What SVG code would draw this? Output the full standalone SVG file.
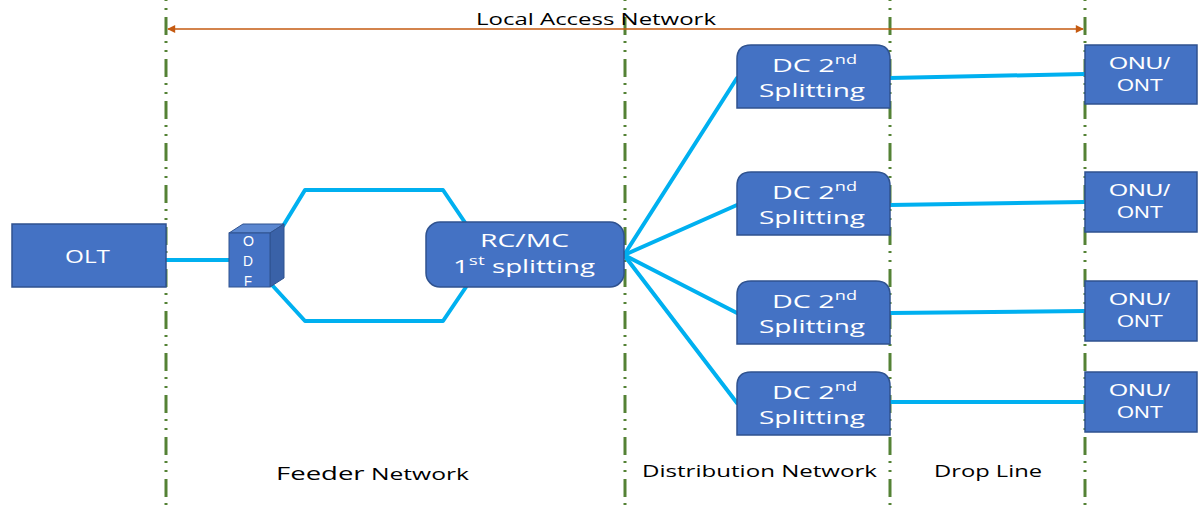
<svg xmlns="http://www.w3.org/2000/svg" width="1198" height="507" viewBox="0 0 1198 507">
<defs>
<marker id="arrS" viewBox="0 0 10 10" refX="1" refY="5" markerWidth="10" markerHeight="8" markerUnits="userSpaceOnUse" orient="auto"><path d="M10,0 L0,5 L10,10 z" fill="#C55A11"/></marker>
<marker id="arrE" viewBox="0 0 10 10" refX="9" refY="5" markerWidth="10" markerHeight="8" markerUnits="userSpaceOnUse" orient="auto"><path d="M0,0 L10,5 L0,10 z" fill="#C55A11"/></marker>
<style>
.vl{stroke:#548235;stroke-width:3;stroke-dasharray:18 6 2 7 2 7;fill:none}
.box{fill:#4472C4;stroke:#2F528F;stroke-width:1.5}
.fib{stroke:#00B0F0;stroke-width:4;fill:none;stroke-linecap:round;stroke-linejoin:round}
.wt{fill:#fff;font-family:"Open Sans","Liberation Sans",sans-serif;font-size:19px}
.wl{fill:#fff;font-family:"Liberation Sans",Arial,sans-serif}
.lb{fill:#000;font-family:"Open Sans","Liberation Sans",sans-serif;font-size:17px}
</style>
</defs>
<g id="guides">
<line class="vl" x1="166" y1="0" x2="166" y2="507" stroke-dashoffset="-17"/>
<line class="vl" x1="625" y1="0" x2="625" y2="507" stroke-dashoffset="-17"/>
<line class="vl" x1="890" y1="0" x2="890" y2="507" stroke-dashoffset="-17"/>
<line class="vl" x1="1085" y1="0" x2="1085" y2="507" stroke-dashoffset="-17"/>
<line x1="168" y1="29" x2="1083" y2="29" stroke="#C55A11" stroke-width="1.5" marker-start="url(#arrS)" marker-end="url(#arrE)"/>
<text class="lb" x="476" y="25" textLength="240" lengthAdjust="spacingAndGlyphs">Local Access Network</text>
</g>
<g id="connectors">
<line class="fib" x1="166" y1="260" x2="229" y2="260"/>
<polyline class="fib" points="283,226 305,190 443,190 466,224"/>
<polyline class="fib" points="272,285 305,321 443,321 466,287"/>
<line class="fib" x1="624" y1="255" x2="737" y2="78"/>
<line class="fib" x1="624" y1="255" x2="737" y2="205"/>
<line class="fib" x1="624" y1="255" x2="737" y2="313"/>
<line class="fib" x1="624" y1="255" x2="737" y2="403"/>
<line class="fib" x1="890" y1="78" x2="1085" y2="74"/>
<line class="fib" x1="890" y1="205" x2="1085" y2="202"/>
<line class="fib" x1="890" y1="313" x2="1085" y2="311"/>
<line class="fib" x1="890" y1="402" x2="1085" y2="402"/>
</g>
<g id="olt">
<rect class="box" x="12" y="224" width="154" height="63"/>
<text class="wt" x="65" y="263" font-size="20" textLength="45" lengthAdjust="spacingAndGlyphs">OLT</text>
</g>
<g id="odf">
<polygon points="229,233 243,224 284,224 270,233" fill="#5B87D0" stroke="#2F528F" stroke-width="1"/>
<polygon points="270,233 284,224 284,278 270,287" fill="#3A62A8" stroke="#2F528F" stroke-width="1"/>
<rect x="229" y="233" width="41" height="54" fill="#4472C4" stroke="#2F528F" stroke-width="1"/>
<text class="wl" x="243" y="246" font-size="15" textLength="11" lengthAdjust="spacingAndGlyphs">O</text>
<text class="wl" x="243" y="266" font-size="15" textLength="10" lengthAdjust="spacingAndGlyphs">D</text>
<text class="wl" x="244" y="286" font-size="15" textLength="8" lengthAdjust="spacingAndGlyphs">F</text>
</g>
<g id="rcmc">
<rect class="box" x="426" y="222" width="198" height="65" rx="14"/>
<text class="wt" x="480" y="247" textLength="89" lengthAdjust="spacingAndGlyphs">RC/MC</text>
<text class="wt" x="453" y="273" textLength="142" lengthAdjust="spacingAndGlyphs">1<tspan font-size="13" dy="-8">st</tspan><tspan dy="8"> splitting</tspan></text>
</g>
<g id="dc1">
<path class="box" d="M737,108 V59 Q737,45 751,45 H876 Q890,45 890,59 V108 Z"/>
<text class="wt" x="772" y="72" font-size="18" textLength="85" lengthAdjust="spacingAndGlyphs">DC 2<tspan font-size="12" dy="-8">nd</tspan></text>
<text class="wt" x="759" y="97" font-size="18" textLength="106" lengthAdjust="spacingAndGlyphs">Splitting</text>
</g>
<g id="dc2">
<path class="box" d="M737,235 V186 Q737,172 751,172 H876 Q890,172 890,186 V235 Z"/>
<text class="wt" x="772" y="199" font-size="18" textLength="85" lengthAdjust="spacingAndGlyphs">DC 2<tspan font-size="12" dy="-8">nd</tspan></text>
<text class="wt" x="759" y="224" font-size="18" textLength="106" lengthAdjust="spacingAndGlyphs">Splitting</text>
</g>
<g id="dc3">
<path class="box" d="M737,344 V295 Q737,281 751,281 H876 Q890,281 890,295 V344 Z"/>
<text class="wt" x="772" y="308" font-size="18" textLength="85" lengthAdjust="spacingAndGlyphs">DC 2<tspan font-size="12" dy="-8">nd</tspan></text>
<text class="wt" x="759" y="333" font-size="18" textLength="106" lengthAdjust="spacingAndGlyphs">Splitting</text>
</g>
<g id="dc4">
<path class="box" d="M737,435 V386 Q737,372 751,372 H876 Q890,372 890,386 V435 Z"/>
<text class="wt" x="772" y="399" font-size="18" textLength="85" lengthAdjust="spacingAndGlyphs">DC 2<tspan font-size="12" dy="-8">nd</tspan></text>
<text class="wt" x="759" y="424" font-size="18" textLength="106" lengthAdjust="spacingAndGlyphs">Splitting</text>
</g>
<g id="onu1">
<rect class="box" x="1085" y="45" width="112" height="59"/>
<text class="wl" x="1109" y="69" font-size="17" textLength="61" lengthAdjust="spacingAndGlyphs">ONU/</text>
<text class="wl" x="1117" y="91" font-size="17" textLength="46" lengthAdjust="spacingAndGlyphs">ONT</text>
</g>
<g id="onu2">
<rect class="box" x="1085" y="172" width="112" height="60"/>
<text class="wl" x="1109" y="196" font-size="17" textLength="61" lengthAdjust="spacingAndGlyphs">ONU/</text>
<text class="wl" x="1117" y="218" font-size="17" textLength="46" lengthAdjust="spacingAndGlyphs">ONT</text>
</g>
<g id="onu3">
<rect class="box" x="1085" y="281" width="112" height="60"/>
<text class="wl" x="1109" y="305" font-size="17" textLength="61" lengthAdjust="spacingAndGlyphs">ONU/</text>
<text class="wl" x="1117" y="327" font-size="17" textLength="46" lengthAdjust="spacingAndGlyphs">ONT</text>
</g>
<g id="onu4">
<rect class="box" x="1085" y="372" width="112" height="60"/>
<text class="wl" x="1109" y="396" font-size="17" textLength="61" lengthAdjust="spacingAndGlyphs">ONU/</text>
<text class="wl" x="1117" y="418" font-size="17" textLength="46" lengthAdjust="spacingAndGlyphs">ONT</text>
</g>
<g id="labels">
<text class="lb" x="276" y="480" textLength="193" lengthAdjust="spacingAndGlyphs"><tspan font-size="19">Feeder</tspan> Network</text>
<text class="lb" x="642" y="477" textLength="235" lengthAdjust="spacingAndGlyphs">Distribution Network</text>
<text class="lb" x="934" y="477" textLength="108" lengthAdjust="spacingAndGlyphs">Drop Line</text>
</g>
</svg>
